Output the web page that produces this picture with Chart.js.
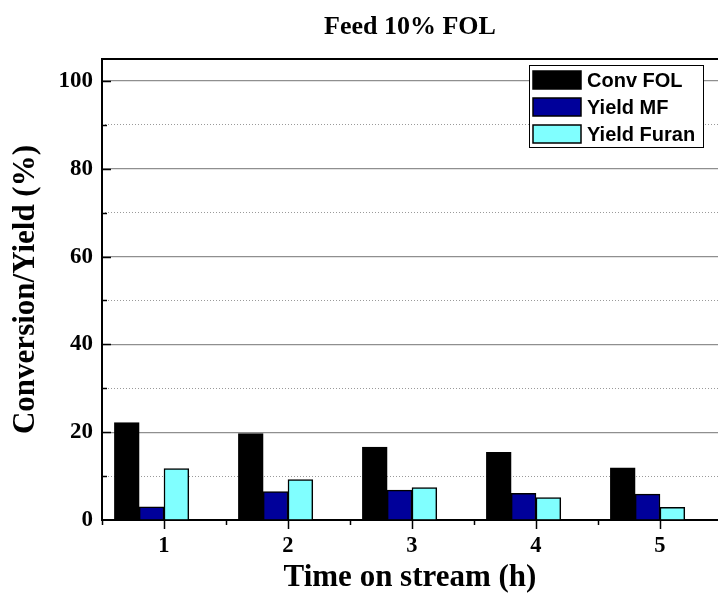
<!DOCTYPE html>
<html>
<head>
<meta charset="utf-8">
<title>Feed 10% FOL</title>
<script src="https://cdn.jsdelivr.net/npm/chart.js@4.4.1/dist/chart.umd.min.js"></script>
<style>
  html, body { margin: 0; padding: 0; background: #fff; overflow: hidden; }
  #wrap { width: 718px; height: 597px; position: relative; }
</style>
</head>
<body>
<div id="wrap"><canvas id="chart"></canvas></div>
<script>
// Time on stream (h)
const categories = [1, 2, 3, 4, 5];
// Conversion / yield values (%)
const convFOL    = [22.2, 19.7, 16.6, 15.4, 11.9];
const yieldMF    = [3.0, 6.5, 6.8, 6.1, 5.9];
const yieldFuran = [11.7, 9.2, 7.4, 5.1, 2.9];
const seriesNames = ['Conv FOL', 'Yield MF', 'Yield Furan'];
const yTickLabels = [0, 20, 40, 60, 80, 100];

const SERIF = "'Liberation Serif', 'Times New Roman', serif";
const SANS = "'Liberation Sans', Arial, sans-serif";

const X_MIN = 0.5, X_MAX = 5.468;   // visible time axis range
const BAR_SHIFT = 0.1;              // groups sit half a bar left of their tick
const BAR_W = 24.8;

const toPoints = vals => categories.map((c, i) => ({ x: c, y: vals[i] }));

// tick positions: whole hours plus half-hour minor ticks
const xTickValues = categories.flatMap(c => [c - 0.5, c]);
// y minor ticks halfway between labelled ticks
const yMinorValues = yTickLabels.slice(0, -1).map((v, i) => (v + yTickLabels[i + 1]) / 2);

// inward/outward tick marks and the top frame line
const frameAndTicks = {
  id: 'frameAndTicks',
  afterDatasetsDraw(chart) {
    const { ctx, chartArea: a, scales } = chart;
    ctx.save();
    ctx.strokeStyle = '#000';
    ctx.lineWidth = 2;
    ctx.beginPath();
    ctx.moveTo(a.left - 1, a.top);
    ctx.lineTo(a.right, a.top);
    ctx.stroke();

    ctx.lineWidth = 1.5;
    const yMarks = yTickLabels.filter(v => v > 0).map(v => [v, 9])
      .concat(yMinorValues.map(v => [v, 5]));
    yMarks.forEach(([v, len]) => {
      const py = Math.round(scales.y.getPixelForValue(v)) + 0.5;
      ctx.beginPath();
      ctx.moveTo(a.left, py);
      ctx.lineTo(a.left + len, py);
      ctx.stroke();
    });
    xTickValues.forEach(v => {
      const px = Math.round(scales.x.getPixelForValue(v)) + 0.5;
      const len = Number.isInteger(v) ? 9 : 5;
      ctx.beginPath();
      ctx.moveTo(px, a.bottom);
      ctx.lineTo(px, a.bottom + len);
      ctx.stroke();
    });
    ctx.restore();
  }
};

// boxed legend in the upper right of the plot
const boxLegend = {
  id: 'boxLegend',
  afterDraw(chart) {
    const { ctx, chartArea: a } = chart;
    const ds = chart.data.datasets;
    const w = 174, padTop = 6, padBottom = 4, step = 27, swW = 48, swH = 18;
    const h = padTop + step * (ds.length - 1) + swH + padBottom;
    const x0 = a.right - 15 - w, y0 = a.top + 6;
    ctx.save();
    ctx.fillStyle = '#fff';
    ctx.fillRect(x0, y0, w, h);
    ctx.strokeStyle = '#000';
    ctx.lineWidth = 1;
    ctx.strokeRect(x0 + 0.5, y0 + 0.5, w, h);
    ctx.font = 'bold 20px ' + SANS;
    ctx.textBaseline = 'middle';
    ctx.textAlign = 'left';
    ds.forEach((d, i) => {
      const sy = y0 + padTop + i * step;
      ctx.fillStyle = d.backgroundColor;
      ctx.fillRect(x0 + 4, sy, swW, swH);
      ctx.lineWidth = 1.5;
      ctx.strokeRect(x0 + 4, sy, swW, swH);
      ctx.fillStyle = '#000';
      ctx.fillText(d.label, x0 + 58, sy + swH / 2 + 1);
    });
    ctx.restore();
  }
};

const colors = ['#000000', '#00009A', '#80FFFF'];
const seriesValues = [convFOL, yieldMF, yieldFuran];

new Chart(document.getElementById('chart'), {
  type: 'bar',
  data: {
    datasets: seriesValues.map((vals, i) => ({
      label: seriesNames[i],
      data: toPoints(vals),
      xAxisID: 'xb',
      yAxisID: 'y',
      backgroundColor: colors[i],
      borderColor: '#000',
      borderWidth: 1.5,
      barThickness: BAR_W
    }))
  },
  options: {
    responsive: true,
    maintainAspectRatio: false,
    animation: false,
    layout: { padding: 0 },
    plugins: {
      legend: { display: false },
      tooltip: { enabled: false },
      title: {
        display: true,
        text: 'Feed 10% FOL',
        fullSize: false,
        color: '#000',
        font: { family: SERIF, size: 26, weight: 'bold', lineHeight: 1.2 },
        padding: { top: 11.6, bottom: 16.2 }
      }
    },
    scales: {
      x: {
        type: 'linear',
        position: 'bottom',
        offset: false,
        min: X_MIN,
        max: X_MAX,
        afterFit: s => { s.height = 77; },
        afterBuildTicks: s => { s.ticks = xTickValues.map(v => ({ value: v })); },
        grid: { offset: false, drawOnChartArea: false, drawTicks: false },
        border: { display: true, color: '#000', width: 2 },
        ticks: {
          padding: 12.5,
          color: '#000',
          font: { family: SERIF, size: 22.5, weight: 'bold' },
          maxRotation: 0,
          autoSkip: false,
          callback: v => categories.includes(v) ? String(v) : ''
        },
        title: {
          display: true,
          text: 'Time on stream (h)',
          color: '#000',
          font: { family: SERIF, size: 31, weight: 'bold', lineHeight: 1.2 },
          padding: { top: 0, bottom: 0.4 }
        }
      },
      xb: {
        type: 'linear',
        display: false,
        offset: false,
        grid: { offset: false },
        min: X_MIN + BAR_SHIFT,
        max: X_MAX + BAR_SHIFT
      },
      y: {
        type: 'linear',
        position: 'left',
        min: 0,
        max: 105,
        afterFit: s => { s.width = 102; },
        afterBuildTicks: s => { s.ticks = yTickLabels.map(v => ({ value: v })); },
        grid: {
          drawTicks: false,
          color: c => (c.tick && c.tick.value > 0) ? '#8f8f8f' : 'rgba(0,0,0,0)',
          lineWidth: 1.3
        },
        border: { display: true, color: '#000', width: 2 },
        ticks: {
          padding: 9,
          color: '#000',
          font: { family: SERIF, size: 23, weight: 'bold' },
          callback: v => String(v)
        },
        title: {
          display: true,
          text: 'Conversion/Yield (%)',
          color: '#000',
          font: { family: SERIF, size: 31, weight: 'bold', lineHeight: 1.2 },
          padding: { top: 6.9, bottom: 0 }
        }
      },
      y2: {
        type: 'linear',
        position: 'left',
        min: 0,
        max: 105,
        afterFit: s => { s.width = 0; },
        afterBuildTicks: s => { s.ticks = yMinorValues.map(v => ({ value: v })); },
        grid: {
          drawTicks: false,
          color: '#9a9a9a',
          lineWidth: 1
        },
        border: { display: false, dash: [1, 2] },
        ticks: { display: false }
      }
    }
  },
  plugins: [frameAndTicks, boxLegend]
});
</script>
</body>
</html>
